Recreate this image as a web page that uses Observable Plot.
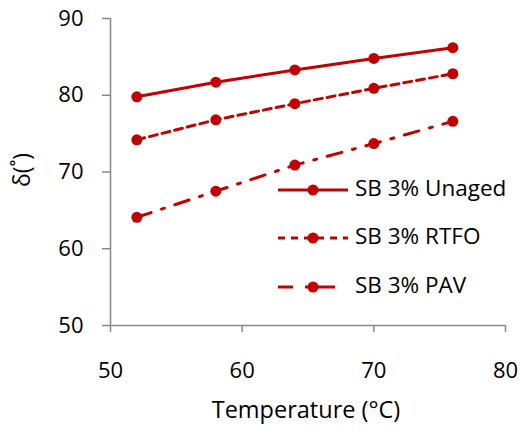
<!DOCTYPE html>
<html><head><meta charset="utf-8">
<script src="https://cdn.jsdelivr.net/npm/d3@7"></script>
<script src="https://cdn.jsdelivr.net/npm/@observablehq/plot@0.6"></script>
<style>
body{margin:0;background:#fff;}
#wrap{position:relative;width:520px;height:438px;font-family:"Open Sans",sans-serif;}
#legend{position:absolute;left:0;top:0;}
</style></head>
<body><div id="wrap"></div>
<script>
const temps = [52, 58, 64, 70, 76];
const unaged = [79.8, 81.7, 83.3, 84.8, 86.2];
const rtfo = [74.2, 76.8, 78.9, 80.9, 82.8];
const pav = [64.1, 67.5, 70.9, 73.7, 76.6];
const seriesNames = ["SB 3% Unaged", "SB 3% RTFO", "SB 3% PAV"];
const dashes = [null, "8,5", "15,11,3,11"];
const xTicks = [50, 60, 70, 80];
const yTicks = [50, 60, 70, 80, 90];

const color = "#C00000";
const axisColor = "#898989";
const seriesVals = [unaged, rtfo, pav];
const data = seriesVals.flatMap((vals, i) => temps.map((t, j) => ({s: seriesNames[i], t, v: vals[j]})));

const marks = [
  Plot.ruleX([xTicks[0]], {stroke: axisColor, strokeWidth: 1.5}),
  Plot.ruleY([yTicks[0]], {stroke: axisColor, strokeWidth: 1.5}),
  Plot.axisX({ticks: xTicks, tickSize: 7, tickPadding: 30, stroke: axisColor, strokeWidth: 1.5, fontSize: 22, color: "#000", label: null}),
  Plot.axisY({ticks: yTicks, tickSize: 8, tickPadding: 19, stroke: axisColor, strokeWidth: 1.5, fontSize: 22, label: null}),
];
seriesNames.forEach((name, i) => {
  const d = data.filter(r => r.s === name);
  marks.push(Plot.line(d, {x: "t", y: "v", stroke: color, strokeWidth: 3, strokeDasharray: dashes[i] || undefined}));
  marks.push(Plot.dot(d, {x: "t", y: "v", r: 5.5, fill: color}));
});

const chart = Plot.plot({
  width: 520, height: 438,
  marginLeft: 110, marginRight: 15, marginTop: 18, marginBottom: 113,
  style: {fontFamily: "Open Sans, sans-serif", color: "#000", background: "#fff", overflow: "visible"},
  x: {domain: [50, 80]},
  y: {domain: [50, 90]},
  marks
});
document.getElementById("wrap").appendChild(chart);

// axis titles
const svg = d3.select(chart);
svg.append("text").attr("x", 306).attr("y", 412).attr("text-anchor", "middle").attr("dominant-baseline", "middle")
  .attr("font-size", 23.5).attr("fill", "#000").text("Temperature (°C)");
svg.append("text").attr("transform", "translate(24,170) rotate(-90)").attr("text-anchor", "middle").attr("dominant-baseline", "middle")
  .attr("font-size", 23).attr("fill", "#000").text("δ(˚)");

// legend
const lg = d3.select("#wrap").append("svg").attr("id", "legend").attr("width", 520).attr("height", 438);
const rowsY = [190, 238, 287];
const lineEnds = [348, 348, 335];
seriesNames.forEach((name, i) => {
  const g = lg.append("g");
  g.append("line").attr("x1", 278).attr("x2", lineEnds[i]).attr("y1", rowsY[i]).attr("y2", rowsY[i])
    .attr("stroke", color).attr("stroke-width", 3).attr("stroke-dasharray", i === 1 ? "7,6" : i === 2 ? "15,12,100" : null);
  g.append("circle").attr("cx", 313).attr("cy", rowsY[i]).attr("r", 5.5).attr("fill", color);
  g.append("text").attr("x", 355).attr("y", rowsY[i]).attr("dominant-baseline", "middle")
    .attr("font-size", 22.5).attr("fill", "#000").text(name);
});
</script></body></html>
